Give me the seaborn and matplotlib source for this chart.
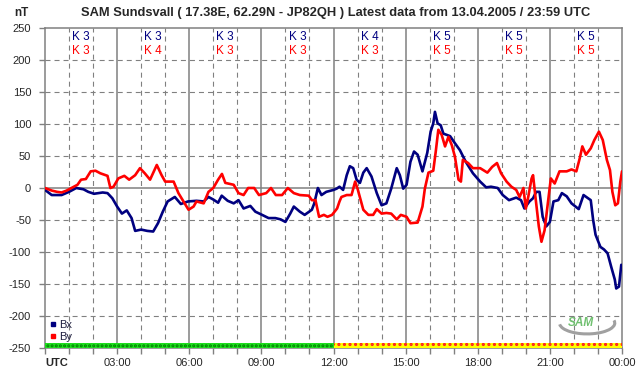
import numpy as np
import pandas as pd
import matplotlib
matplotlib.use("Agg")
import matplotlib.pyplot as plt
import seaborn as sns
from matplotlib.lines import Line2D
from matplotlib.patches import Arc

# --- data (hours UTC, nT) ---
bx_hours = [0.0, 0.28, 0.69, 1.0, 1.3, 1.6, 1.8, 2.04, 2.4, 2.6, 2.8, 3.0, 3.2, 3.4, 3.6, 3.75,
            4.0, 4.25, 4.5, 4.7, 4.9, 5.1, 5.4, 5.65, 5.95, 6.3, 6.6, 6.8, 7.0, 7.2, 7.35, 7.6,
            7.85, 8.05, 8.26, 8.54, 8.75, 9.03, 9.3, 9.58, 9.8, 10.0, 10.2, 10.35, 10.6, 10.8,
            11.1, 11.2, 11.35, 11.5, 11.7, 12.0, 12.13, 12.25, 12.4, 12.55, 12.68, 12.82, 12.96,
            13.1, 13.24, 13.38, 13.58, 13.8, 14.0, 14.2, 14.4, 14.63, 14.76, 14.9, 15.04, 15.2,
            15.35, 15.5, 15.7, 15.9, 16.04, 16.15, 16.22, 16.33, 16.46, 16.57, 16.85, 17.05,
            17.26, 17.5, 17.8, 18.1, 18.35, 18.55, 18.83, 19.04, 19.3, 19.6, 19.8, 19.94, 20.15,
            20.3, 20.43, 20.57, 20.7, 20.85, 21.0, 21.15, 21.35, 21.5, 21.7, 21.9, 22.2, 22.4,
            22.7, 22.8, 22.9, 23.1, 23.25, 23.4, 23.55, 23.7, 23.76, 23.875, 23.97]
bx_values = [-3, -11, -11, -6, 0, -2, -6, -9, -7, -8, -16, -29, -40, -35, -47, -67,
             -65, -67, -68, -55, -37, -21, -14, -25, -21, -20, -21, -14, -18, -23, -12, -20,
             -24, -19, -32, -28, -37, -42, -47, -47, -49, -53, -40, -29, -37, -42,
             -34, -24, 0, -11, -6, -3, -1, 2, -3, 20, 34, 31, 13,
             8, 24, 31, 18, -8, -27, -24, -1, 31, 20, -1, 5, 41,
             57, 52, 26, 55, 88, 101, 119, 101, 98, 85, 81, 70,
             59, 41, 23, 10, 1, 2, 0, -11, -19, -15, -19, -32, -21,
             -16, -6, -6, -45, -60, -53, -21, -19, -8, -13, -24, -33, -11,
             -19, -50, -73, -92, -96, -102, -123, -143, -157, -154, -120]

by_hours = [0.0, 0.28, 0.5, 0.69, 0.9, 1.1, 1.35, 1.5, 1.7, 1.9, 2.1, 2.3, 2.6, 2.72, 2.85,
            3.05, 3.3, 3.5, 3.75, 3.95, 4.15, 4.37, 4.65, 4.85, 5.0, 5.35, 5.55, 5.97, 6.18,
            6.3, 6.6, 6.8, 7.0, 7.2, 7.36, 7.5, 7.85, 8.05, 8.26, 8.45, 8.7, 8.9, 9.2, 9.4, 9.6,
            9.86, 10.1, 10.35, 10.6, 10.97, 11.1, 11.25, 11.4, 11.6, 11.75, 11.94, 12.15, 12.25,
            12.33, 12.55, 12.75, 12.9, 13.0, 13.24, 13.45, 13.65, 13.8, 14.0, 14.2, 14.4, 14.63,
            14.8, 15.04, 15.2, 15.5, 15.7, 15.8, 15.95, 16.15, 16.26, 16.36, 16.5, 16.64, 16.78,
            16.92, 17.05, 17.2, 17.3, 17.38, 17.6, 17.8, 18.1, 18.4, 18.6, 18.8, 18.97, 19.2,
            19.4, 19.6, 19.74, 19.9, 20.0, 20.1, 20.24, 20.3, 20.4, 20.54, 20.65, 20.78, 20.9,
            21.04, 21.2, 21.4, 21.7, 21.9, 22.1, 22.24, 22.35, 22.5, 22.7, 22.85, 23.04, 23.2,
            23.37, 23.5, 23.6, 23.72, 23.83, 23.93, 24.0]
by_values = [0, -4, -6, -7, -4, 0, 5, 13, 14, 26, 27, 23, 19, 0, 2,
             15, 19, 13, 20, 31, 23, 13, 36, 20, 10, 10, -8, -34, -29,
             -21, -24, -6, 0, 13, 22, 8, 5, -8, -11, 0, 0, -11, -8, 0, -11,
             -11, 0, -8, -11, -12, -19, -19, -45, -42, -45, -42, -32, -21,
             -14, -11, -11, 10, -1, -34, -42, -42, -33, -40, -39, -40, -49,
             -42, -45, -55, -54, -29, -1, 24, 27, 59, 91, 83, 65, 80,
             67, 49, 13, 10, 44, 39, 31, 31, 24, 33, 39, 23, 10,
             2, -3, -14, 0, -32, -14, 15, 20, -14, -60, -84, -66, -29,
             15, 7, 26, 26, 29, 26, 46, 65, 52, 62, 75, 88, 75,
             44, 28, -6, -27, -24, 10, 26]

k_bx = [3, 3, 3, 3, 4, 5, 5, 5]
k_by = [3, 4, 3, 3, 3, 5, 5, 5]
x_tick_labels = ["UTC", "03:00", "06:00", "09:00", "12:00", "15:00", "18:00", "21:00", "00:00"]
title = "SAM Sundsvall ( 17.38E, 62.29N - JP82QH ) Latest data from 13.04.2005 / 23:59 UTC"

df = pd.concat([
    pd.DataFrame({"hour": bx_hours, "nT": bx_values, "comp": "Bx"}),
    pd.DataFrame({"hour": by_hours, "nT": by_values, "comp": "By"}),
])
colors = {"Bx": "#000080", "By": "#ff0000"}

sns.set_style("white")
plt.rcParams["font.family"] = ["Liberation Sans", "DejaVu Sans"]
plt.rcParams["lines.scale_dashes"] = False
plt.rcParams["hatch.linewidth"] = 1.5

fig = plt.figure(figsize=(6.42, 3.76), dpi=100)
ax = fig.add_axes([45 / 642, 28 / 376, 577 / 642, 320 / 376])
grid_c = "#808080"

# grid: solid every 3 h / at 0 nT, dashed otherwise
for h in range(1, 24):
    if h % 3 == 0:
        ax.axvline(h, color=grid_c, lw=1.1, zorder=1)
    else:
        ax.axvline(h, color=grid_c, lw=0.8, ls=(0, (3.6, 2.9)), zorder=1)
for v in range(-200, 250, 50):
    if v == 0:
        ax.axhline(v, color=grid_c, lw=1.1, zorder=1)
    else:
        ax.axhline(v, color=grid_c, lw=0.8, ls=(0, (3.6, 2.9)), zorder=1)

sns.lineplot(data=df, x="hour", y="nT", hue="comp", palette=colors, sort=False,
             estimator=None, lw=1.9, legend=False, ax=ax, zorder=3)

# status bar at the bottom
ax.fill_between([0, 12], -250, -241.5, facecolor="#20e020", edgecolor="#008000",
                hatch="....", lw=0, zorder=4)
ax.fill_between([12, 24], -250, -241.5, facecolor="#ffff00", edgecolor="#ff2020",
                hatch="...", lw=0, zorder=4)

# K indices
for i, (kb, ky) in enumerate(zip(k_bx, k_by)):
    xc = 1.5 + 3 * i
    ax.text(xc, 236, f"K {kb}", color="#000080", fontsize=8.5, ha="center", va="center")
    ax.text(xc, 214, f"K {ky}", color="#ff0000", fontsize=8.5, ha="center", va="center")

ax.set_xlim(0, 24)
ax.set_ylim(-250, 250)
ax.set_yticks(range(-250, 251, 50))
ax.set_yticklabels([str(v) for v in range(-250, 251, 50)], fontsize=8)
ax.set_xticks(range(0, 25, 3))
ax.set_xticklabels(x_tick_labels, fontsize=8)
ax.set_xticks(range(0, 25), minor=True)
lab0 = ax.get_xticklabels()[0]
lab0.set_fontweight("bold")
lab0.set_ha("left")
ax.tick_params(axis="both", which="both", direction="out", length=4, width=1,
               color=grid_c, left=True, bottom=True, pad=3)
ax.tick_params(axis="y", pad=6)
ax.set_xlabel("")
ax.set_ylabel("")
for s in ax.spines.values():
    s.set_color(grid_c)
    s.set_linewidth(1.1)

handles = [Line2D([], [], marker="s", color=colors[c], ls="", markersize=3) for c in ["Bx", "By"]]
leg = ax.legend(handles, ["Bx", "By"], loc="lower left", bbox_to_anchor=(-0.005, -0.002),
                frameon=False, fontsize=8, handletextpad=0.1, labelspacing=0.2,
                handlelength=0.8, borderaxespad=0.2)
for t in leg.get_texts():
    t.set_color("#202040")

# SAM logo (approximation)
ax.add_patch(Arc((22.55, -211), 2.3, 34, theta1=-120, theta2=75, color="#a0a0a0", lw=2.2, zorder=5))
ax.text(22.3, -211, "SAM", color="#70c070", fontsize=8.5, fontweight="bold",
        fontstyle="italic", ha="center", va="center", zorder=6)

fig.text(335.5 / 642, 1 - 13 / 376, title, fontsize=9.3, fontweight="bold",
         ha="center", va="center")
fig.text(21 / 642, 1 - 13 / 376, "nT", fontsize=8.5, fontweight="bold", ha="center", va="center")

fig.savefig("out.png", dpi=100)
